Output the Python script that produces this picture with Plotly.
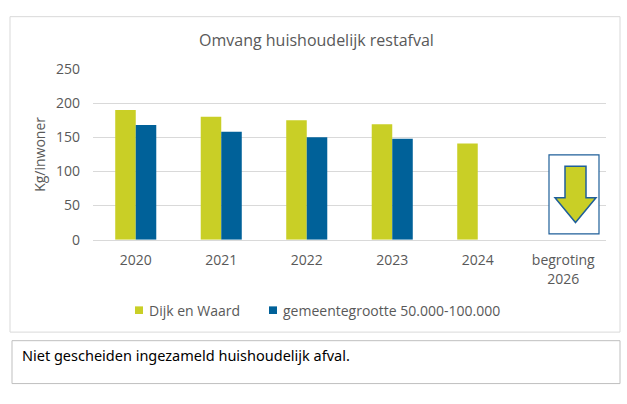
import plotly.graph_objects as go

categories = ["2020", "2021", "2022", "2023", "2024", "begroting 2026"]
tick_labels = ["2020", "2021", "2022", "2023", "2024", "begroting<br>2026"]
series_names = ["Dijk en Waard", "gemeentegrootte 50.000-100.000"]
dijk_en_waard = [190, 180, 175, 169, 141, None]
gemeentegrootte = [168, 158, 150, 148, None, None]
y_ticks = [0, 50, 100, 150, 200, 250]

W, H = 627, 404
def X(px): return px / W
def Y(py): return 1 - py / H

GREEN = "#c9cf26"
BLUE = "#006199"
GRAY = "#595959"
FONT = "Open Sans, Noto Sans, DejaVu Sans, sans-serif"
colors = [GREEN, BLUE]

fig = go.Figure()
for name, vals, col in zip(series_names, [dijk_en_waard, gemeentegrootte], colors):
    fig.add_trace(go.Bar(x=categories, y=vals, name=name,
                         marker=dict(color=col, line=dict(width=0))))

shapes = [
    # chart frame
    dict(type="rect", xref="paper", yref="paper", x0=X(10), x1=X(620), y0=Y(338), y1=Y(7),
         line=dict(color="#d9d9d9", width=1), layer="below"),
    # text box
    dict(type="rect", xref="paper", yref="paper", x0=X(12), x1=X(620), y0=Y(392), y1=Y(347),
         line=dict(color="#bfbfbf", width=1)),
    # arrow box
    dict(type="rect", xref="paper", yref="paper", x0=X(549), x1=X(599), y0=Y(235), y1=Y(152),
         line=dict(color="#1f5f99", width=1.2), fillcolor="white", layer="above"),
]
# down arrow
pts = [(565, 164), (586, 164), (586, 197), (596, 197), (575.5, 223), (555, 197), (565, 197)]
path = "M " + " L ".join(f"{X(a):.5f},{Y(b):.5f}" for a, b in pts) + " Z"
shapes.append(dict(type="path", xref="paper", yref="paper", path=path,
                   fillcolor=GREEN, line=dict(color="#1f5f99", width=1.5), layer="above"))

annotations = [
    dict(text="Omvang huishoudelijk restafval", xref="paper", yref="paper",
         x=X(316), y=Y(32), showarrow=False, font=dict(family=FONT, size=16, color=GRAY),
         xanchor="center", yanchor="middle"),
    dict(text="Kg/inwoner", xref="paper", yref="paper", x=X(40), y=Y(152), textangle=-90,
         showarrow=False, font=dict(family=FONT, size=14, color=GRAY),
         xanchor="center", yanchor="middle"),
    dict(text="Niet gescheiden ingezameld huishoudelijk afval.", xref="paper", yref="paper",
         x=X(20), y=Y(362), showarrow=False, xanchor="left", yanchor="middle",
         font=dict(family="Noto Sans, sans-serif", size=14.5, color="black")),
]

# custom legend (small square markers as in the reference)
legend_sq_x = [135, 269]
for name, col, sx in zip(series_names, colors, legend_sq_x):
    shapes.append(dict(type="rect", xref="paper", yref="paper", x0=X(sx), x1=X(sx + 8),
                       y0=Y(319), y1=Y(311), fillcolor=col, line=dict(width=0)))
    annotations.append(dict(text=name, xref="paper", yref="paper", x=X(sx + 12), y=Y(315),
                            showarrow=False, xanchor="left", yanchor="middle",
                            font=dict(family=FONT, size=14, color=GRAY)))

fig.update_layout(
    width=W, height=H,
    margin=dict(l=0, r=0, t=0, b=0),
    paper_bgcolor="white", plot_bgcolor="white",
    barmode="group", bargap=0.52, bargroupgap=0,
    font=dict(family=FONT, size=14, color=GRAY),
    showlegend=False,
    xaxis=dict(domain=[X(93), X(606)], type="category", tickmode="array",
               tickvals=categories, ticktext=tick_labels, showgrid=False,
               showline=True, linecolor="#d9d9d9", ticks="", ticklabelstandoff=8,
               tickfont=dict(family=FONT, size=14, color=GRAY), fixedrange=True),
    yaxis=dict(domain=[Y(241), Y(62)], range=[0, 250], tickvals=y_ticks,
               showgrid=True, gridcolor="#d9d9d9", gridwidth=1, zeroline=False,
               showline=False, ticks="", ticklabelstandoff=12,
               tickfont=dict(family=FONT, size=14, color=GRAY), fixedrange=True),
    shapes=shapes, annotations=annotations,
)

fig.write_html("out.html", config={"displayModeBar": False},
               post_script="document.body.style.margin='0';document.body.style.padding='0';")
